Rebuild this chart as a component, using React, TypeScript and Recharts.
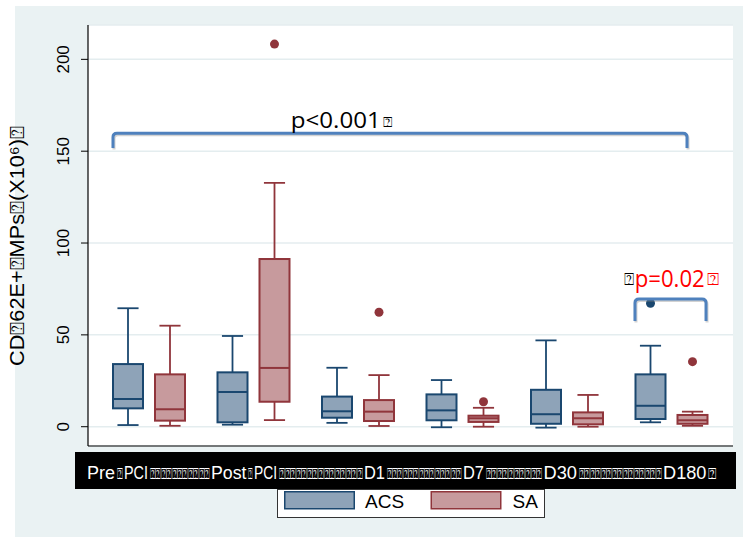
import React from 'react';
import {
  ComposedChart,
  Bar,
  XAxis,
  YAxis,
  CartesianGrid,
  ReferenceLine,
} from 'recharts';

// ---------- data ----------
const categories = ['Pre PCI', 'Post PCI', 'D1', 'D7', 'D30', 'D180'];

const acsMin = [0.9, 1.1, 2.1, -0.3, -0.5, 2.4];
const acsQ1 = [10.0, 2.4, 4.9, 3.5, 1.6, 4.2];
const acsMed = [15.1, 18.9, 8.4, 8.9, 6.8, 11.4];
const acsQ3 = [34.1, 29.6, 16.4, 17.6, 20.1, 28.5];
const acsMax = [64.5, 49.4, 32.1, 25.4, 47.0, 44.1];
const acsOutliers: number[][] = [[], [], [], [], [], [67.2]];

const saMin = [0.5, 3.6, 0.4, 0.0, 0.0, 0.5];
const saQ1 = [3.3, 13.6, 3.1, 2.6, 1.3, 1.6];
const saMed = [9.5, 32.0, 8.2, 4.6, 4.6, 3.5];
const saQ3 = [28.5, 91.3, 14.5, 6.0, 7.8, 6.4];
const saMax = [55.0, 132.8, 28.1, 10.3, 17.3, 8.2];
const saOutliers: number[][] = [[], [208.3], [62.3], [13.6], [], [35.4]];

const yTicks = [0, 50, 100, 150, 200];
const seriesNames = ['ACS', 'SA'];
const TOFU = '\u2370';
const yLabelText = `CD${TOFU}62E+${TOFU}MPs${TOFU}(X10\u2076)${TOFU}`;
const pAllText = 'p<0.001';
const pD180Text = 'p=0.02';

// significance brackets: span between two categories (with offsets in band units),
// bracket top / end values, and the label (offset in band units from the first category, value)
const brackets = [
  { from: 'Pre PCI', to: 'D180', off1: -0.347, off2: 0.146, top: 159.7, end: 151.7, label: pAllText, labelOff: 1.354, labelY: 162.5, kind: 'all' },
  { from: 'D30', to: 'D180', off1: 0.648, off2: 0.328, top: 69.5, end: 57.5, label: pD180Text, labelOff: 0.617, labelY: 76.2, kind: 'd180' },
];

// ---------- style ----------
const ACS_STROKE = '#1a476f';
const ACS_FILL = '#8ea3b8';
const SA_STROKE = '#90353b';
const SA_FILL = '#c79a9d';
const BRACKET = '#4f81bd';
const SANS = "'Liberation Sans', Arial, sans-serif";
const OPEN = "'Open Sans', 'Noto Sans', sans-serif";

const table = categories.map((cat, i) => ({
  cat,
  acsMin: acsMin[i],
  acsQ1: acsQ1[i],
  acsMed: acsMed[i],
  acsQ3: acsQ3[i],
  acsMax: acsMax[i],
  acsOut: acsOutliers[i],
  acsRange: [acsMin[i], acsMax[i]],
  saMin: saMin[i],
  saQ1: saQ1[i],
  saMed: saMed[i],
  saQ3: saQ3[i],
  saMax: saMax[i],
  saOut: saOutliers[i],
  saRange: [saMin[i], saMax[i]],
}));

const makeBox = (key: 'acs' | 'sa', stroke: string, fill: string) => (props: any) => {
  const { x, y, width, height, payload } = props;
  if (x == null || y == null || !payload) return <g />;
  const lo = payload[key + 'Min'];
  const hi = payload[key + 'Max'];
  const top = Math.min(y, y + height);
  const bot = Math.max(y, y + height);
  const k = (bot - top) / (hi - lo);
  const py = (v: number) => bot - (v - lo) * k;
  const cx = x + width / 2;
  const cap = width * 0.33;
  const q1 = py(payload[key + 'Q1']);
  const q3 = py(payload[key + 'Q3']);
  const med = py(payload[key + 'Med']);
  const outs: number[] = payload[key + 'Out'] || [];
  return (
    <g>
      <line x1={cx} x2={cx} y1={top} y2={q3} stroke={stroke} strokeWidth={1.8} />
      <line x1={cx} x2={cx} y1={q1} y2={bot} stroke={stroke} strokeWidth={1.8} />
      <line x1={cx - cap} x2={cx + cap} y1={top} y2={top} stroke={stroke} strokeWidth={1.8} />
      <line x1={cx - cap} x2={cx + cap} y1={bot} y2={bot} stroke={stroke} strokeWidth={1.8} />
      <rect x={x + 1} y={q3} width={width - 2} height={Math.max(q1 - q3, 0)} fill={fill} stroke={stroke} strokeWidth={2} />
      <line x1={x + 1} x2={x + width - 1} y1={med} y2={med} stroke={stroke} strokeWidth={2} />
      {outs.map((v, j) => (
        <circle key={j} cx={cx} cy={py(v)} r={4.5} fill={stroke} />
      ))}
    </g>
  );
};

const acsShape = makeBox('acs', ACS_STROKE, ACS_FILL);
const saShape = makeBox('sa', SA_STROKE, SA_FILL);

const makeBracket = (b: (typeof brackets)[number]) => (props: any) => {
  const { x1: cx1, y1, x2: cx2, y2 } = props;
  if (cx1 == null) return <g />;
  const i1 = categories.indexOf(b.from);
  const i2 = categories.indexOf(b.to);
  const band = (cx2 - cx1) / (i2 - i1);
  const xa = cx1 + b.off1 * band;
  const xb = cx2 + b.off2 * band;
  const py = (v: number) => y1 + ((v - b.top) * (y2 - y1)) / (b.end - b.top);
  const tx = cx1 + b.labelOff * band;
  const ty = py(b.labelY);
  const r = 4;
  const d = `M${xa},${y2} L${xa},${y1 + r} Q${xa},${y1} ${xa + r},${y1} L${xb - r},${y1} Q${xb},${y1} ${xb},${y1 + r} L${xb},${y2}`;
  return (
    <g>
      <path d={d} transform="translate(1,1.5)" fill="none" stroke="#7f7f7f" strokeOpacity={0.35} strokeWidth={3} />
      <path d={d} fill="none" stroke={BRACKET} strokeWidth={3} />
      {b.kind === 'all' ? (
        <text y={ty} fontFamily={OPEN} fontSize={22} fill="#000">
          <tspan x={tx} textLength={90} lengthAdjust="spacingAndGlyphs">{b.label}</tspan>
          <tspan x={tx + 92.5} dy={-1} fontFamily={SANS} fontSize={14} textLength={9} lengthAdjust="spacingAndGlyphs">{TOFU}</tspan>
        </text>
      ) : (
        <text y={ty} fontFamily={OPEN} fontSize={23} fill="#ff0000">
          <tspan x={tx - 8} dy={-1.5} fontFamily={SANS} fontSize={17} fill="#000" textLength={10} lengthAdjust="spacingAndGlyphs">{TOFU}</tspan>
          <tspan x={tx + 3} dy={1.5} textLength={70} lengthAdjust="spacingAndGlyphs">{b.label}</tspan>
          <tspan x={tx + 75} dy={-1.5} fontFamily={SANS} fontSize={17} textLength={12} lengthAdjust="spacingAndGlyphs">{TOFU}</tspan>
        </text>
      )}
    </g>
  );
};

const YTick = (props: any) => {
  const { x, y, payload } = props;
  return (
    <text
      transform={`translate(${x - 16},${y}) rotate(-90)`}
      textAnchor="middle"
      dominantBaseline="central"
      fontFamily={SANS}
      fontSize={17}
      fill="#000"
    >
      {payload.value}
    </text>
  );
};

// layout of the black category bar (pixel spans of each text piece)
const barSpans: [number, number][] = [
  [87, 115], [117, 122.5], [124, 148], [150, 209.5],
  [211, 246.5], [248, 252.5], [254, 277], [279, 362.5],
  [364, 385], [386.5, 461.5], [463, 484], [485.5, 542],
  [543.5, 577], [578.5, 661.5], [663, 706.5], [708, 716],
];

// approximate advance widths (em) used to pick a font size whose natural width fits a span
const ADV: Record<string, number> = {
  P: 0.667, r: 0.333, e: 0.556, C: 0.722, I: 0.278, o: 0.556, s: 0.5, t: 0.278, D: 0.722,
};
const advOf = (s: string) =>
  Array.from(s).reduce((acc, ch) => acc + (ch === TOFU ? 0.6 : ADV[ch] ?? 0.556), 0);

function buildPieces(): { text: string; tofu: boolean }[] {
  const out: { text: string; tofu: boolean }[] = [];
  categories.forEach((c, i) => {
    const words = c.split(' ');
    words.forEach((w, j) => {
      out.push({ text: w, tofu: false });
      if (j < words.length - 1) out.push({ text: TOFU, tofu: true });
    });
    if (i < categories.length - 1) out.push({ text: 'RUN', tofu: true });
    else out.push({ text: TOFU, tofu: true });
  });
  return out;
}

export default function App() {
  const pieces = buildPieces();
  return (
    <div style={{ position: 'absolute', left: 0, top: 0, width: 743, height: 537, background: '#fff', overflow: 'hidden' }}>
      <div style={{ position: 'absolute', left: 15, top: 6, width: 728, height: 531, background: '#eaf2f3' }} />
      <div style={{ position: 'absolute', left: 0, top: 0 }}>
        <ComposedChart
          width={743}
          height={537}
          data={table}
          barGap={10}
          margin={{ top: 25, right: 10, bottom: 81, left: 0 }}
        >
          <CartesianGrid vertical={false} fill="#ffffff" fillOpacity={1} stroke="#e4edef" strokeWidth={1.5} />
          <XAxis
            dataKey="cat"
            padding={{ left: 9, right: 9 }}
            tick={false}
            tickLine={false}
            axisLine={{ stroke: '#000', strokeWidth: 1.2 }}
            height={10}
          />
          <YAxis
            width={88}
            domain={[-10.5, 218.7]}
            allowDataOverflow
            ticks={yTicks}
            interval={0}
            tickSize={7}
            tickMargin={2}
            tick={YTick}
            tickLine={{ stroke: '#000' }}
            axisLine={{ stroke: '#000', strokeWidth: 1.2 }}
          />
          <Bar dataKey="acsRange" name={seriesNames[0]} barSize={32} shape={acsShape} isAnimationActive={false} />
          <Bar dataKey="saRange" name={seriesNames[1]} barSize={32} shape={saShape} isAnimationActive={false} />
          {brackets.map((b, i) => (
            <ReferenceLine
              key={i}
              ifOverflow="visible"
              segment={[{ x: b.from, y: b.top }, { x: b.to, y: b.end }]}
              shape={makeBracket(b)}
            />
          ))}
        </ComposedChart>
      </div>
      <svg width={743} height={537} style={{ position: 'absolute', left: 0, top: 0, pointerEvents: 'none' }}>
        {/* y axis title */}
        <text
          transform="translate(16.5,246) rotate(-90)"
          textAnchor="middle"
          dominantBaseline="central"
          fontFamily={SANS}
          fontSize={20}
          fill="#000"
          textLength={240}
          lengthAdjust="spacingAndGlyphs"
        >
          {yLabelText}
        </text>
        {/* category bar */}
        <rect x={75} y={452} width={661} height={37} fill="#000" />
        {pieces.map((p, i) => {
          const [a, b] = barSpans[i];
          const w = b - a;
          const txt = p.text === 'RUN' ? TOFU.repeat(Math.max(1, Math.round(w / 5.5))) : p.text;
          const target = p.tofu ? 15 : 18;
          const fs = Math.min(target, (w * 0.97) / advOf(txt));
          const ky = target / fs;
          return (
            <text
              key={i}
              transform={`translate(${a},479.3) scale(1,${ky.toFixed(3)})`}
              x={0}
              y={0}
              fontFamily={SANS}
              fontSize={fs.toFixed(2)}
              fill="#fff"
              textLength={w}
              lengthAdjust="spacingAndGlyphs"
            >
              {txt}
            </text>
          );
        })}
        {/* legend */}
        <rect x={277.5} y={489.5} width={267} height={28} fill="#fff" stroke="#333" strokeWidth={1} />
        <rect x={284.75} y={491.75} width={69.5} height={17} fill={ACS_FILL} stroke={ACS_STROKE} strokeWidth={1.5} />
        <text x={365} y={507.5} fontFamily={SANS} fontSize={19} fill="#000">{seriesNames[0]}</text>
        <rect x={431.25} y={491.75} width={69.5} height={17} fill={SA_FILL} stroke={SA_STROKE} strokeWidth={1.5} />
        <text x={512.5} y={507.5} fontFamily={SANS} fontSize={19} fill="#000">{seriesNames[1]}</text>
      </svg>
    </div>
  );
}
